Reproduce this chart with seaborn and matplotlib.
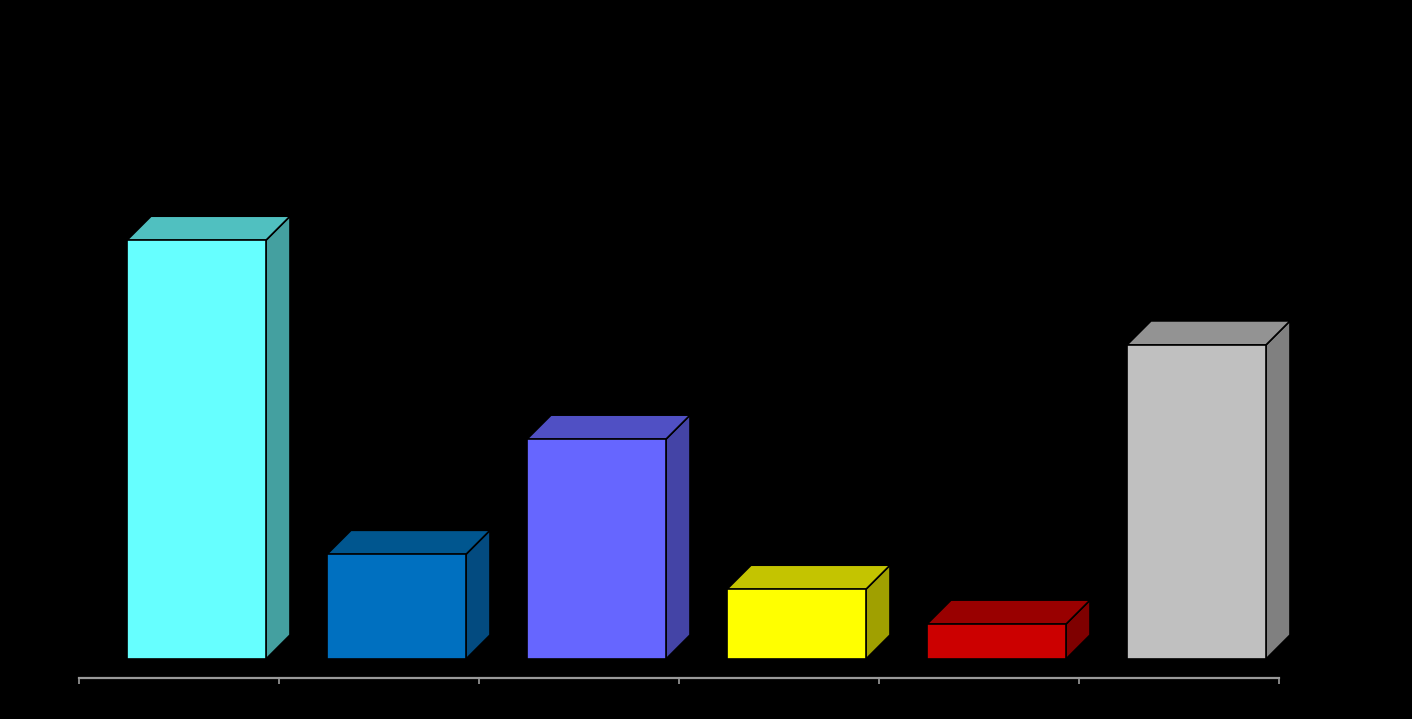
import matplotlib
matplotlib.use("Agg")
import matplotlib.pyplot as plt
import matplotlib.transforms as mtransforms
from matplotlib.patches import Polygon
import pandas as pd
import seaborn as sns

# data (no labels visible in the picture)
categorias = ["A", "B", "C", "D", "E", "F"]
valores = [12.0, 3.0, 6.3, 2.0, 1.0, 9.0]
cor_frente = ["#66FFFF", "#0070C0", "#6666FF", "#FFFF00", "#CC0000", "#C0C0C0"]
cor_topo = ["#50C0C0", "#00568F", "#5050C4", "#C4C400", "#990000", "#939393"]
cor_lado = ["#44A0A0", "#034B80", "#4444A6", "#A0A000", "#7F0000", "#808080"]

df = pd.DataFrame({"categoria": categorias, "valor": valores})

sns.set_style("dark")
fig = plt.figure(figsize=(14.12, 7.19), dpi=100, facecolor="black")
ax = fig.add_axes([79 / 1412, 41 / 719, 1200 / 1412, 628.2 / 719])
ax.set_facecolor("black")

sns.barplot(data=df, x="categoria", y="valor", hue="categoria",
            palette=cor_frente, width=0.695, legend=False, ax=ax,
            edgecolor="black", linewidth=1.2, saturation=1)

ax.set_xlim(-0.5, 5.5)
ax.set_ylim(0, 18)

# bars sit back in the "floor" depth: shift by pixels
recuo = mtransforms.ScaledTranslation(17.5 / 100, 19 / 100, fig.dpi_scale_trans)
dx = 24 / 200          # depth in x data units
dy = 24 / 34.9         # depth in y data units

for i, barra in enumerate(ax.patches):
    barra.set_transform(ax.transData + recuo)
    x0 = barra.get_x()
    w = barra.get_width()
    h = barra.get_height()
    topo = Polygon([(x0, h), (x0 + w, h), (x0 + w + dx, h + dy), (x0 + dx, h + dy)],
                   closed=True, facecolor=cor_topo[i], edgecolor="black", linewidth=1.2,
                   transform=ax.transData + recuo, clip_on=False)
    lado = Polygon([(x0 + w, 0), (x0 + w + dx, dy), (x0 + w + dx, h + dy), (x0 + w, h)],
                   closed=True, facecolor=cor_lado[i], edgecolor="black", linewidth=1.2,
                   transform=ax.transData + recuo, clip_on=False)
    ax.add_patch(lado)
    ax.add_patch(topo)
    barra.set_zorder(3)

# axis: gray line with ticks at the category boundaries
for lado_spine in ["top", "right", "left"]:
    ax.spines[lado_spine].set_visible(False)
ax.spines["bottom"].set_visible(True)
ax.spines["bottom"].set_color("#9A9A9A")
ax.spines["bottom"].set_linewidth(1.6)
ax.set_xticks([i - 0.5 for i in range(len(categorias) + 1)])
ax.set_xticklabels([])
ax.set_yticks([])
ax.tick_params(axis="x", direction="out", length=4, width=1.2, color="#9A9A9A", bottom=True)
ax.grid(False)
ax.set_xlabel("")
ax.set_ylabel("")

fig.savefig("out.png", dpi=100, facecolor="black")
